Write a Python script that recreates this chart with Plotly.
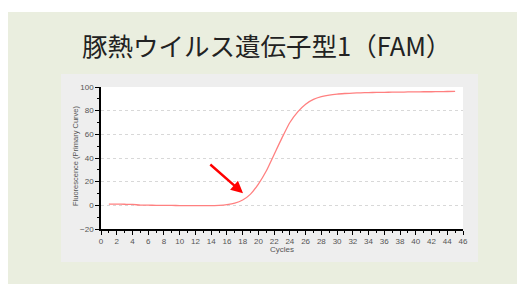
import plotly.graph_objects as go

cycles = list(range(1, 46))
fluorescence = [1.0, 1.0, 0.9, 0.8, 0.2, 0.1, 0.0, 0.0, -0.1, -0.2,
                -0.3, -0.3, -0.3, -0.2, 0.0, 0.6, 1.8, 4.5, 9.5, 18.0,
                29.0, 43.0, 57.0, 70.0, 79.0, 85.5, 89.5, 91.8, 93.2, 94.0,
                94.5, 94.9, 95.1, 95.3, 95.4, 95.5, 95.6, 95.7, 95.8, 95.9,
                96.0, 96.0, 96.1, 96.2, 96.3]
title_text = "豚熱ウイルス遺伝子型1（FAM）"
x_title = "Cycles"
y_title = "Fluorescence (Primary Curve)"

OFF = 8  # page body margin
W, H = 525 - OFF, 284 - OFF
plot_l, plot_r, plot_t, plot_b = 101 - OFF, 463 - OFF, 87 - OFF, 229 - OFF
L, R, T, B = plot_l, W - plot_r, plot_t, H - plot_b
pw, ph = plot_r - plot_l, plot_b - plot_t

def px(x):
    return (x - OFF - plot_l) / pw

def py(y):
    return (plot_b - (y - OFF)) / ph

fig = go.Figure()
fig.add_trace(go.Scatter(x=cycles, y=fluorescence, mode="lines",
                         line=dict(color="#FF8080", width=1.3, shape="spline", smoothing=0.6),
                         hoverinfo="skip", showlegend=False))

shapes = [
    dict(type="rect", xref="paper", yref="paper", x0=px(8), x1=px(530), y0=py(290), y1=py(12),
         fillcolor="#EAEEDF", line=dict(width=0), layer="below"),
    dict(type="rect", xref="paper", yref="paper", x0=px(61), x1=px(478), y0=py(262), y1=py(74),
         fillcolor="#EEEEEE", line=dict(width=0), layer="below"),
    dict(type="rect", xref="paper", yref="paper", x0=0, x1=1, y0=0, y1=1,
         fillcolor="#FFFFFF", line=dict(width=0), layer="below"),
]

tickfont = dict(family="Liberation Sans, Arial, sans-serif", size=8, color="#555555")

fig.update_layout(
    width=W, height=H,
    margin=dict(l=L, r=R, t=T, b=B, pad=0),
    paper_bgcolor="#FFFFFF",
    plot_bgcolor="rgba(0,0,0,0)",
    shapes=shapes,
    showlegend=False,
    xaxis=dict(range=[0, 46], tickmode="linear", tick0=0, dtick=2,
               showgrid=False, zeroline=False, showline=True, linecolor="#000000", linewidth=1.5,
               ticks="outside", ticklen=4, tickwidth=1.2, tickcolor="#000000",
               minor=dict(dtick=1, ticks="outside", ticklen=2, tickwidth=1.2, tickcolor="#000000", showgrid=False),
               tickfont=tickfont, fixedrange=True),
    yaxis=dict(range=[-20, 100], tickmode="linear", tick0=-20, dtick=20,
               showgrid=True, gridcolor="#D8D8D8", griddash="dot", gridwidth=1,
               zeroline=False, showline=True, linecolor="#000000", linewidth=1.5,
               ticks="outside", ticklen=4, tickwidth=1.2, tickcolor="#000000",
               minor=dict(dtick=10, ticks="outside", ticklen=2, tickwidth=1.2, tickcolor="#000000", showgrid=False),
               tickfont=tickfont, fixedrange=True),
    annotations=[
        dict(text=title_text, xref="paper", yref="paper", x=px(266), y=py(45),
             xanchor="center", yanchor="middle", showarrow=False,
             font=dict(family="Noto Sans CJK JP, sans-serif", size=25.5, color="#222222")),
        dict(text=x_title, xref="paper", yref="paper", x=px(282), y=py(249),
             xanchor="center", yanchor="middle", showarrow=False,
             font=dict(family="Liberation Sans, Arial, sans-serif", size=8, color="#555555")),
        dict(text=y_title, xref="paper", yref="paper", x=px(75), y=py(156),
             xanchor="center", yanchor="middle", showarrow=False, textangle=-90,
             font=dict(family="Liberation Sans, Arial, sans-serif", size=7.5, color="#555555")),
        dict(text="", x=18.05, y=10.2, ax=13.7, ay=35.6, xref="x", yref="y", axref="x", ayref="y",
             showarrow=True, arrowhead=2, arrowsize=1, arrowwidth=2.4, arrowcolor="#FF0000", standoff=0),
    ],
)

fig.write_html("out.html")
